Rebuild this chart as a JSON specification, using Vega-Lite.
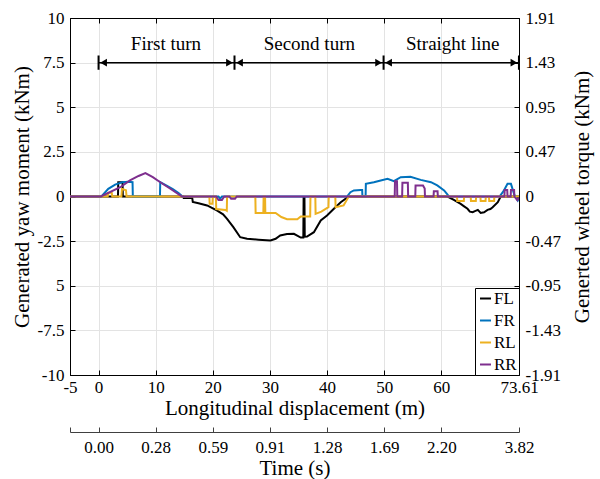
{
  "$schema": "https://vega.github.io/schema/vega-lite/v6.json",
  "width": 449,
  "height": 357,
  "autosize": {"type": "none"},
  "padding": {"left": 70, "top": 18, "right": 81, "bottom": 104},
  "config": {
    "font": "Liberation Serif",
    "view": {"stroke": "#000000", "strokeWidth": 1},
    "axis": {
      "labelFont": "Liberation Serif",
      "titleFont": "Liberation Serif",
      "labelFontSize": 17,
      "titleFontSize": 21,
      "titleFontWeight": 400,
      "labelColor": "#000000",
      "titleColor": "#000000",
      "domainColor": "#000000",
      "tickColor": "#000000",
      "tickSize": -5,
      "gridColor": "#e3e3e3",
      "gridWidth": 1,
      "labelFlush": false,
      "labelOverlap": false
    },
    "legend": {"labelFont": "Liberation Serif"}
  },
  "datasets": {
    "series": [
      {"wheel": "FL", "x": -5, "y": 0},
      {"wheel": "FL", "x": 3.4, "y": 0},
      {"wheel": "FL", "x": 3.45, "y": 0.8},
      {"wheel": "FL", "x": 4.2, "y": 0.8},
      {"wheel": "FL", "x": 4.25, "y": 0},
      {"wheel": "FL", "x": 14.8, "y": 0},
      {"wheel": "FL", "x": 14.9, "y": -0.08},
      {"wheel": "FL", "x": 16.4, "y": -0.08},
      {"wheel": "FL", "x": 16.5, "y": -0.3},
      {"wheel": "FL", "x": 17.5, "y": -0.38},
      {"wheel": "FL", "x": 19, "y": -0.5},
      {"wheel": "FL", "x": 20.7, "y": -0.78},
      {"wheel": "FL", "x": 21.8, "y": -1.0},
      {"wheel": "FL", "x": 22.5, "y": -1.25},
      {"wheel": "FL", "x": 23.6, "y": -1.72},
      {"wheel": "FL", "x": 24.8, "y": -2.28},
      {"wheel": "FL", "x": 26, "y": -2.37},
      {"wheel": "FL", "x": 28, "y": -2.42},
      {"wheel": "FL", "x": 30.1, "y": -2.46},
      {"wheel": "FL", "x": 31, "y": -2.37},
      {"wheel": "FL", "x": 31.8, "y": -2.18},
      {"wheel": "FL", "x": 33, "y": -2.1},
      {"wheel": "FL", "x": 34.2, "y": -2.09},
      {"wheel": "FL", "x": 35.4, "y": -2.3},
      {"wheel": "FL", "x": 35.85, "y": -2.3},
      {"wheel": "FL", "x": 35.9, "y": -0.05},
      {"wheel": "FL", "x": 36.05, "y": -0.05},
      {"wheel": "FL", "x": 36.1, "y": -2.25},
      {"wheel": "FL", "x": 36.5, "y": -2.24},
      {"wheel": "FL", "x": 37.7, "y": -2.0},
      {"wheel": "FL", "x": 38.9, "y": -1.34},
      {"wheel": "FL", "x": 40, "y": -1.06},
      {"wheel": "FL", "x": 41.2, "y": -0.69},
      {"wheel": "FL", "x": 42.4, "y": -0.32},
      {"wheel": "FL", "x": 43.8, "y": 0},
      {"wheel": "FL", "x": 61.1, "y": 0},
      {"wheel": "FL", "x": 62.2, "y": -0.19},
      {"wheel": "FL", "x": 63.4, "y": -0.41},
      {"wheel": "FL", "x": 64, "y": -0.55},
      {"wheel": "FL", "x": 64.6, "y": -0.69},
      {"wheel": "FL", "x": 65, "y": -0.85},
      {"wheel": "FL", "x": 65.5, "y": -0.88},
      {"wheel": "FL", "x": 65.8, "y": -0.83},
      {"wheel": "FL", "x": 66.4, "y": -0.75},
      {"wheel": "FL", "x": 66.9, "y": -0.92},
      {"wheel": "FL", "x": 67.5, "y": -0.88},
      {"wheel": "FL", "x": 68.1, "y": -0.75},
      {"wheel": "FL", "x": 68.6, "y": -0.7},
      {"wheel": "FL", "x": 69, "y": -0.6},
      {"wheel": "FL", "x": 69.9, "y": -0.32},
      {"wheel": "FL", "x": 70.4, "y": 0},
      {"wheel": "FL", "x": 73.61, "y": 0},

      {"wheel": "FR", "x": -5, "y": 0},
      {"wheel": "FR", "x": 0.5, "y": 0},
      {"wheel": "FR", "x": 1.7, "y": 0.43},
      {"wheel": "FR", "x": 2.9, "y": 0.67},
      {"wheel": "FR", "x": 4.1, "y": 0.8},
      {"wheel": "FR", "x": 5.2, "y": 0.83},
      {"wheel": "FR", "x": 5.95, "y": 0.8},
      {"wheel": "FR", "x": 6.0, "y": 0},
      {"wheel": "FR", "x": 10.75, "y": 0},
      {"wheel": "FR", "x": 10.8, "y": 0.8},
      {"wheel": "FR", "x": 12, "y": 0.6},
      {"wheel": "FR", "x": 13, "y": 0.42},
      {"wheel": "FR", "x": 14, "y": 0.2},
      {"wheel": "FR", "x": 14.7, "y": 0},
      {"wheel": "FR", "x": 21, "y": 0},
      {"wheel": "FR", "x": 21.3, "y": -0.12},
      {"wheel": "FR", "x": 21.6, "y": 0},
      {"wheel": "FR", "x": 43.5, "y": 0},
      {"wheel": "FR", "x": 44.1, "y": 0.24},
      {"wheel": "FR", "x": 44.7, "y": 0.34},
      {"wheel": "FR", "x": 45.9, "y": 0.37},
      {"wheel": "FR", "x": 46.15, "y": 0.37},
      {"wheel": "FR", "x": 46.2, "y": 0},
      {"wheel": "FR", "x": 46.75, "y": 0},
      {"wheel": "FR", "x": 46.8, "y": 0.71},
      {"wheel": "FR", "x": 48.2, "y": 0.8},
      {"wheel": "FR", "x": 49.4, "y": 0.9},
      {"wheel": "FR", "x": 50.6, "y": 0.99},
      {"wheel": "FR", "x": 51.7, "y": 0.86},
      {"wheel": "FR", "x": 52.9, "y": 1.08},
      {"wheel": "FR", "x": 54.6, "y": 1.1},
      {"wheel": "FR", "x": 56.4, "y": 0.93},
      {"wheel": "FR", "x": 58.2, "y": 0.8},
      {"wheel": "FR", "x": 59.3, "y": 0.62},
      {"wheel": "FR", "x": 60.5, "y": 0.34},
      {"wheel": "FR", "x": 61.1, "y": 0.1},
      {"wheel": "FR", "x": 61.4, "y": 0},
      {"wheel": "FR", "x": 70.2, "y": 0},
      {"wheel": "FR", "x": 70.9, "y": 0.3},
      {"wheel": "FR", "x": 71.6, "y": 0.71},
      {"wheel": "FR", "x": 72.2, "y": 0.71},
      {"wheel": "FR", "x": 72.8, "y": 0.1},
      {"wheel": "FR", "x": 73.4, "y": -0.22},
      {"wheel": "FR", "x": 73.61, "y": -0.1},

      {"wheel": "RL", "x": -5, "y": 0},
      {"wheel": "RL", "x": 1.6, "y": 0},
      {"wheel": "RL", "x": 1.7, "y": 0.2},
      {"wheel": "RL", "x": 2.3, "y": 0.22},
      {"wheel": "RL", "x": 2.4, "y": 0},
      {"wheel": "RL", "x": 4.0, "y": 0},
      {"wheel": "RL", "x": 4.1, "y": 0.43},
      {"wheel": "RL", "x": 4.8, "y": 0.35},
      {"wheel": "RL", "x": 4.9, "y": 0},
      {"wheel": "RL", "x": 19.4, "y": 0},
      {"wheel": "RL", "x": 19.45, "y": -0.4},
      {"wheel": "RL", "x": 19.95, "y": -0.4},
      {"wheel": "RL", "x": 20, "y": 0},
      {"wheel": "RL", "x": 20.55, "y": 0},
      {"wheel": "RL", "x": 20.6, "y": -0.7},
      {"wheel": "RL", "x": 22.2, "y": -0.75},
      {"wheel": "RL", "x": 22.45, "y": -0.8},
      {"wheel": "RL", "x": 22.5, "y": 0},
      {"wheel": "RL", "x": 27.45, "y": 0},
      {"wheel": "RL", "x": 27.5, "y": -0.92},
      {"wheel": "RL", "x": 28.85, "y": -0.92},
      {"wheel": "RL", "x": 28.9, "y": 0},
      {"wheel": "RL", "x": 29.15, "y": 0},
      {"wheel": "RL", "x": 29.2, "y": -0.92},
      {"wheel": "RL", "x": 31, "y": -0.92},
      {"wheel": "RL", "x": 32, "y": -1.15},
      {"wheel": "RL", "x": 33, "y": -1.27},
      {"wheel": "RL", "x": 34.8, "y": -1.27},
      {"wheel": "RL", "x": 35.4, "y": -1.12},
      {"wheel": "RL", "x": 37.05, "y": -1.12},
      {"wheel": "RL", "x": 37.1, "y": 0},
      {"wheel": "RL", "x": 37.95, "y": 0},
      {"wheel": "RL", "x": 38, "y": -0.97},
      {"wheel": "RL", "x": 39, "y": -0.85},
      {"wheel": "RL", "x": 40.25, "y": -0.6},
      {"wheel": "RL", "x": 40.3, "y": 0},
      {"wheel": "RL", "x": 41.45, "y": 0},
      {"wheel": "RL", "x": 41.5, "y": -0.6},
      {"wheel": "RL", "x": 42.9, "y": -0.5},
      {"wheel": "RL", "x": 43.8, "y": 0},
      {"wheel": "RL", "x": 62.75, "y": 0},
      {"wheel": "RL", "x": 62.8, "y": -0.25},
      {"wheel": "RL", "x": 63.95, "y": -0.25},
      {"wheel": "RL", "x": 64, "y": 0},
      {"wheel": "RL", "x": 65.15, "y": 0},
      {"wheel": "RL", "x": 65.2, "y": -0.25},
      {"wheel": "RL", "x": 66.05, "y": -0.25},
      {"wheel": "RL", "x": 66.1, "y": 0},
      {"wheel": "RL", "x": 66.85, "y": 0},
      {"wheel": "RL", "x": 66.9, "y": -0.25},
      {"wheel": "RL", "x": 67.75, "y": -0.25},
      {"wheel": "RL", "x": 67.8, "y": 0},
      {"wheel": "RL", "x": 68.35, "y": 0},
      {"wheel": "RL", "x": 68.4, "y": -0.25},
      {"wheel": "RL", "x": 69.25, "y": -0.25},
      {"wheel": "RL", "x": 69.3, "y": 0},
      {"wheel": "RL", "x": 73.61, "y": 0},

      {"wheel": "RR", "x": -5, "y": 0},
      {"wheel": "RR", "x": 0.4, "y": 0},
      {"wheel": "RR", "x": 3.8, "y": 0.52},
      {"wheel": "RR", "x": 5.5, "y": 0.9},
      {"wheel": "RR", "x": 7, "y": 1.15},
      {"wheel": "RR", "x": 8.2, "y": 1.31},
      {"wheel": "RR", "x": 9.5, "y": 1.08},
      {"wheel": "RR", "x": 10.8, "y": 0.8},
      {"wheel": "RR", "x": 12.5, "y": 0.45},
      {"wheel": "RR", "x": 14.6, "y": 0},
      {"wheel": "RR", "x": 20.6, "y": 0},
      {"wheel": "RR", "x": 21, "y": -0.2},
      {"wheel": "RR", "x": 21.6, "y": -0.2},
      {"wheel": "RR", "x": 22, "y": 0},
      {"wheel": "RR", "x": 22.9, "y": 0},
      {"wheel": "RR", "x": 23.2, "y": -0.12},
      {"wheel": "RR", "x": 23.9, "y": -0.12},
      {"wheel": "RR", "x": 24.2, "y": 0},
      {"wheel": "RR", "x": 51.85, "y": 0},
      {"wheel": "RR", "x": 51.9, "y": 0.86},
      {"wheel": "RR", "x": 52.25, "y": 0.86},
      {"wheel": "RR", "x": 52.3, "y": 0},
      {"wheel": "RR", "x": 53.15, "y": 0},
      {"wheel": "RR", "x": 53.2, "y": 0.77},
      {"wheel": "RR", "x": 54.15, "y": 0.77},
      {"wheel": "RR", "x": 54.2, "y": 0},
      {"wheel": "RR", "x": 55.45, "y": 0},
      {"wheel": "RR", "x": 55.5, "y": 0.62},
      {"wheel": "RR", "x": 56.8, "y": 0.62},
      {"wheel": "RR", "x": 57.1, "y": 0.45},
      {"wheel": "RR", "x": 57.15, "y": 0},
      {"wheel": "RR", "x": 58.65, "y": 0},
      {"wheel": "RR", "x": 58.7, "y": 0.3},
      {"wheel": "RR", "x": 59.35, "y": 0.3},
      {"wheel": "RR", "x": 59.4, "y": 0},
      {"wheel": "RR", "x": 71.05, "y": 0},
      {"wheel": "RR", "x": 71.1, "y": 0.37},
      {"wheel": "RR", "x": 71.55, "y": 0.37},
      {"wheel": "RR", "x": 71.6, "y": 0},
      {"wheel": "RR", "x": 72.15, "y": 0},
      {"wheel": "RR", "x": 72.2, "y": 0.37},
      {"wheel": "RR", "x": 72.75, "y": 0.37},
      {"wheel": "RR", "x": 72.8, "y": 0},
      {"wheel": "RR", "x": 73.3, "y": -0.2},
      {"wheel": "RR", "x": 73.61, "y": -0.05}
    ],
    "spans": [
      {"start": 0, "end": 23.8, "y": 7.5},
      {"start": 23.8, "end": 49.9, "y": 7.5},
      {"start": 49.9, "end": 73.6, "y": 7.5}
    ],
    "bars": [
      {"x": 0, "lo": 7.1, "hi": 7.9},
      {"x": 23.8, "lo": 7.1, "hi": 7.9},
      {"x": 49.9, "lo": 7.1, "hi": 7.9},
      {"x": 73.6, "lo": 7.1, "hi": 7.9}
    ],
    "phases": [
      {"label": "First turn", "x": 11.8, "y": 8.2},
      {"label": "Second turn", "x": 36.9, "y": 8.2},
      {"label": "Straight line", "x": 62.0, "y": 8.2}
    ],
    "dummy": [{"x": 0, "y": 0}]
  },
  "layer": [
    {
      "layer": [
        {
          "data": {"name": "series"},
          "mark": {"type": "line", "strokeWidth": 2, "clip": true},
          "encoding": {
            "x": {
              "field": "x", "type": "quantitative",
              "scale": {"domain": [-5, 73.61], "nice": false, "zero": false},
              "axis": {
                "values": [-5, 0, 10, 20, 30, 40, 50, 60, 73.61],
                "labelExpr": "'' + datum.value",
                "title": "Longitudinal displacement (m)",
                "titleFontWeight": 400,
                "grid": true,
                "labelPadding": 9,
                "titlePadding": 2
              }
            },
            "y": {
              "field": "y", "type": "quantitative",
              "scale": {"domain": [-10, 10], "nice": false, "zero": false},
              "axis": {
                "values": [-10, -7.5, -5, -2.5, 0, 2.5, 5, 7.5, 10],
                "labelExpr": "datum.value == -5 ? '5' : '' + datum.value",
                "title": "Generated yaw moment (kNm)",
                "titleFontWeight": 400,
                "grid": true,
                "labelPadding": 11,
                "titlePadding": 5
              }
            },
            "color": {
              "field": "wheel", "type": "nominal",
              "scale": {"domain": ["FL", "FR", "RL", "RR"], "range": ["#000000", "#0072BD", "#EDB120", "#7E2F8E"]},
              "legend": {
                "title": null,
                "orient": "bottom-right",
                "offset": 0,
                "strokeColor": "#000000",
                "fillColor": "#ffffff",
                "padding": 2,
                "labelFontSize": 17,
                "labelColor": "#000000",
                "symbolType": "stroke",
                "symbolStrokeWidth": 2,
                "symbolSize": 120,
                "rowPadding": 4,
                "labelOffset": 0
              }
            }
          }
        },
        {
          "data": {"name": "spans"},
          "mark": {"type": "rule", "color": "#000000", "strokeWidth": 1.5},
          "encoding": {
            "x": {"field": "start", "type": "quantitative", "scale": {"domain": [-5, 73.61], "nice": false, "zero": false}},
            "x2": {"field": "end"},
            "y": {"field": "y", "type": "quantitative", "scale": {"domain": [-10, 10], "nice": false, "zero": false}}
          }
        },
        {
          "data": {"name": "bars"},
          "mark": {"type": "rule", "color": "#000000", "strokeWidth": 2},
          "encoding": {
            "x": {"field": "x", "type": "quantitative", "scale": {"domain": [-5, 73.61], "nice": false, "zero": false}},
            "y": {"field": "lo", "type": "quantitative", "scale": {"domain": [-10, 10], "nice": false, "zero": false}},
            "y2": {"field": "hi"}
          }
        },
        {
          "data": {"name": "spans"},
          "mark": {"type": "point", "shape": "triangle-left", "filled": true, "color": "#000000", "opacity": 1, "size": 60, "xOffset": 5},
          "encoding": {
            "x": {"field": "start", "type": "quantitative", "scale": {"domain": [-5, 73.61], "nice": false, "zero": false}},
            "y": {"field": "y", "type": "quantitative", "scale": {"domain": [-10, 10], "nice": false, "zero": false}}
          }
        },
        {
          "data": {"name": "spans"},
          "mark": {"type": "point", "shape": "triangle-right", "filled": true, "color": "#000000", "opacity": 1, "size": 60, "xOffset": -5},
          "encoding": {
            "x": {"field": "end", "type": "quantitative", "scale": {"domain": [-5, 73.61], "nice": false, "zero": false}},
            "y": {"field": "y", "type": "quantitative", "scale": {"domain": [-10, 10], "nice": false, "zero": false}}
          }
        },
        {
          "data": {"name": "phases"},
          "mark": {"type": "text", "fontSize": 19, "font": "Liberation Serif", "color": "#000000", "align": "center", "baseline": "alphabetic"},
          "encoding": {
            "x": {"field": "x", "type": "quantitative", "scale": {"domain": [-5, 73.61], "nice": false, "zero": false}},
            "y": {"field": "y", "type": "quantitative", "scale": {"domain": [-10, 10], "nice": false, "zero": false}},
            "text": {"field": "label"}
          }
        }
      ]
    },
    {
      "data": {"name": "dummy"},
      "mark": {"type": "point", "opacity": 0},
      "encoding": {
        "x": {
          "field": "x", "type": "quantitative",
          "scale": {"domain": [-5, 73.61], "nice": false, "zero": false},
          "axis": {
            "orient": "bottom",
            "offset": 57,
            "values": [-5, 0, 10, 20, 30, 40, 50, 60, 73.61],
            "labelExpr": "datum.value == 0 ? '0.00' : datum.value == 10 ? '0.28' : datum.value == 20 ? '0.59' : datum.value == 30 ? '0.91' : datum.value == 40 ? '1.28' : datum.value == 50 ? '1.69' : datum.value == 60 ? '2.20' : datum.value > 70 ? '3.82' : ''",
            "title": "Time (s)",
            "titleFontWeight": 400,
            "grid": false,
            "domainColor": "#404040",
            "tickColor": "#404040",
            "labelPadding": 12,
            "titlePadding": 2
          }
        },
        "y": {
          "field": "y", "type": "quantitative",
          "scale": {"domain": [-10, 10], "nice": false, "zero": false},
          "axis": {
            "orient": "right",
            "values": [-10, -7.5, -5, -2.5, 0, 2.5, 5, 7.5, 10],
            "labelExpr": "datum.value == 10 ? '1.91' : datum.value == 7.5 ? '1.43' : datum.value == 5 ? '0.95' : datum.value == 2.5 ? '0.47' : datum.value == 0 ? '0' : datum.value == -2.5 ? '-0.47' : datum.value == -5 ? '-0.95' : datum.value == -7.5 ? '-1.43' : '-1.91'",
            "title": "Generted wheel torque (kNm)",
            "titleFontWeight": 400,
            "titleAngle": 270,
            "titleBaseline": "bottom",
            "grid": false,
            "labelPadding": 11,
            "titlePadding": 32
          }
        }
      }
    },
    {
      "data": {"name": "dummy"},
      "mark": {"type": "point", "opacity": 0},
      "encoding": {
        "x": {
          "field": "x", "type": "quantitative",
          "scale": {"domain": [-5, 73.61], "nice": false, "zero": false},
          "axis": {
            "orient": "top",
            "values": [-5, 0, 10, 20, 30, 40, 50, 60, 73.61],
            "labels": false,
            "title": null,
            "grid": false
          }
        }
      }
    }
  ],
  "resolve": {"scale": {"x": "independent", "y": "independent"}}
}
